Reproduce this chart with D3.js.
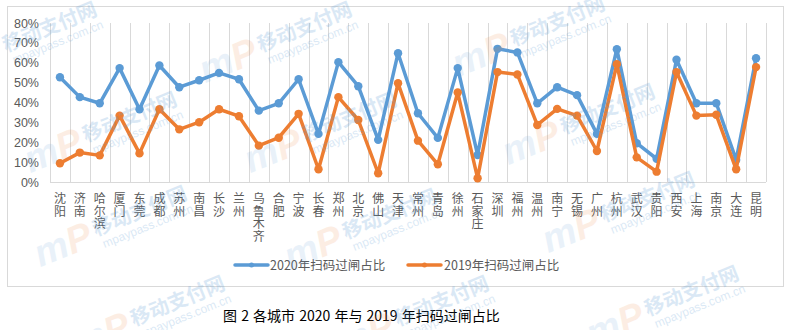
<!DOCTYPE html>
<html><head><meta charset="utf-8">
<script src="https://cdn.jsdelivr.net/npm/d3@7"></script>
<style>html,body{margin:0;padding:0;background:#fff;}svg{display:block;}</style>
</head><body>
<svg id="c" width="791" height="330"></svg>
<script>
const cities = ["沈阳","济南","哈尔滨","厦门","东莞","成都","苏州","南昌","长沙","兰州","乌鲁木齐","合肥","宁波","长春","郑州","北京","佛山","天津","常州","青岛","徐州","石家庄","深圳","福州","温州","南宁","无锡","广州","杭州","武汉","贵阳","西安","上海","南京","大连","昆明"];
const v2020 = [52.7,42.7,39.6,57.3,36.6,58.6,47.7,51.2,54.9,51.7,35.9,39.6,51.7,24.2,60.3,48.2,21.2,64.8,34.6,22.2,57.3,13.6,67.0,65.2,39.6,47.7,43.7,24.2,66.8,19.5,11.7,61.5,39.6,39.6,11.1,62.3];
const v2019 = [9.4,14.8,13.4,33.4,14.4,36.6,26.5,30.1,36.6,33.1,18.3,22.3,34.3,6.4,42.7,31.2,4.4,49.7,20.8,8.9,45.0,1.9,55.3,54.1,28.7,36.8,33.4,15.6,59.3,12.4,5.2,55.3,33.4,33.8,6.4,57.8];
const yTicks = [0,10,20,30,40,50,60,70,80];
const seriesNames = ["2020年扫码过闸占比","2019年扫码过闸占比"];
const caption = "图 2 各城市 2020 年与 2019 年扫码过闸占比";
const wmText = "移动支付网";
const wmUrl = "mpaypass.com.cn";

const svg = d3.select("#c");
const font = "'Liberation Sans','DejaVu Sans','Noto Sans CJK SC',sans-serif";
const cjk = "'Noto Sans CJK SC',sans-serif";

// chart border
svg.append("rect").attr("x",7.5).attr("y",6.5).attr("width",776).attr("height",280).attr("fill","none").attr("stroke","#d9d9d9");

const x = d3.scaleBand().domain(cities).range([50,766]).padding(0);
const y = d3.scaleLinear().domain([0,80]).range([182,23]);

// vertical gridlines at category boundaries
const bounds = cities.map(c=>x(c)).concat([x(cities[cities.length-1])+x.bandwidth()]);
svg.append("g").selectAll("line").data(bounds).join("line")
  .attr("x1",d=>Math.round(d)+0.5).attr("x2",d=>Math.round(d)+0.5)
  .attr("y1",y(80)).attr("y2",y(0)).attr("stroke","#d9d9d9").attr("stroke-width",1);

// x axis line
svg.append("line").attr("x1",50).attr("x2",766).attr("y1",y(0)+0.5).attr("y2",y(0)+0.5).attr("stroke","#d9d9d9");

// y axis labels
const yAxis = d3.axisLeft(y).tickValues(yTicks).tickFormat(d=>d+"%").tickSize(0).tickPadding(0);
const ya = svg.append("g").attr("transform","translate(39,0)").call(yAxis);
ya.select(".domain").remove();
ya.selectAll("text").attr("font-family",font).attr("font-size",12.5).attr("fill","#595959");

// category labels: one character per text, stacked vertically
const lab = svg.append("g");
cities.forEach(c=>{
  const cx = x(c)+x.bandwidth()/2;
  Array.from(c).forEach((ch,i)=>{
    lab.append("text").attr("x",cx).attr("y",203+i*12.5)
      .attr("font-family",cjk).attr("font-size",12).attr("fill","#595959").attr("text-anchor","middle").text(ch);
  });
});

const line = d3.line().x((d,i)=>x(cities[i])+x.bandwidth()/2).y(d=>y(d));
const colors = ["#5B9BD5","#ED7D31"];
[v2020,v2019].forEach((vals,k)=>{
  svg.append("path").datum(vals).attr("d",line).attr("fill","none").attr("stroke",colors[k]).attr("stroke-width",3.5).attr("stroke-linejoin","round").attr("stroke-linecap","round");
  svg.append("g").selectAll("circle").data(vals).join("circle")
    .attr("cx",(d,i)=>x(cities[i])+x.bandwidth()/2).attr("cy",d=>y(d)).attr("r",4.2).attr("fill",colors[k]);
});

// legend
const leg = [[235,270],[408,444]];
seriesNames.forEach((n,k)=>{
  const [lx,tx] = leg[k];
  svg.append("line").attr("x1",lx).attr("x2",lx+33).attr("y1",265).attr("y2",265).attr("stroke",colors[k]).attr("stroke-width",3.5).attr("stroke-linecap","round");
  svg.append("circle").attr("cx",lx+16.5).attr("cy",265).attr("r",2.5).attr("fill",colors[k]);
  svg.append("text").attr("x",tx).attr("y",269.5).attr("font-family",cjk).attr("font-size",12.5).attr("fill","#595959").text(n);
});

// caption
svg.append("text").attr("x",223).attr("y",321).attr("font-family",cjk).attr("font-size",14).attr("fill","#000").attr("word-spacing","1px").text(caption);

// faint watermarks (tiled)
const wmPos = [[50,28],[305,28],[558,22],[130,118],[350,118],[608,110],[140,212],[390,215],[648,198],[178,302],[442,302],[692,292]];
const wm = svg.append("g").attr("pointer-events","none");
wmPos.forEach(([wx,wy])=>{
  const g = wm.append("g").attr("transform",`translate(${wx},${wy}) rotate(-22)`);
  g.append("text").attr("x",-54).attr("y",14).attr("text-anchor","end").attr("font-family",font).attr("font-size",38).attr("font-weight","bold").attr("font-style","italic")
    .attr("opacity",0.13)
    .call(t=>{t.append("tspan").attr("fill","#5B9BD5").text("m");t.append("tspan").attr("fill","#ED7D31").text("P");});
  g.append("text").attr("x",0).attr("y",6).attr("text-anchor","middle").attr("font-family",cjk).attr("font-size",20).attr("font-weight","bold")
    .attr("fill","#5B9BD5").attr("opacity",0.22).text(wmText);
  g.append("text").attr("x",2).attr("y",20).attr("text-anchor","middle").attr("font-family",font).attr("font-size",12)
    .attr("fill","#5B9BD5").attr("opacity",0.22).text(wmUrl);
});
</script>
</body></html>
